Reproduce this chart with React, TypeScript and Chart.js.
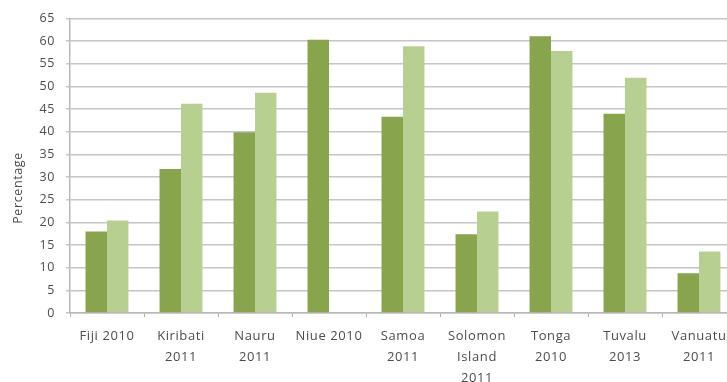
import React, { useEffect, useRef } from "react";
import { Chart, registerables } from "chart.js";

Chart.register(...registerables);

const categories: string[][] = [
  ["Fiji 2010"],
  ["Kiribati", "2011"],
  ["Nauru", "2011"],
  ["Niue 2010"],
  ["Samoa", "2011"],
  ["Solomon", "Island", "2011"],
  ["Tonga", "2010"],
  ["Tuvalu", "2013"],
  ["Vanuatu", "2011"],
];

const seriesA: (number | null)[] = [18.0, 31.8, 39.9, 60.3, 43.3, 17.4, 61.1, 44.0, 8.8];
const seriesB: (number | null)[] = [20.4, 46.2, 48.6, null, 58.9, 22.4, 57.8, 51.9, 13.6];

const yAxisTitle = "Percentage";
const colorA = "#88a44c";
const colorB = "#b8cf92";
const FONT = "'Open Sans', sans-serif";
const TEXT = "#4d4d4d";

const spacingPlugin = {
  id: "spacingPlugin",
  beforeDraw(chart: any) {
    chart.ctx.letterSpacing = "0.6px";
  },
};

const yTitlePlugin = {
  id: "yTitlePlugin",
  afterDraw(chart: any) {
    const ctx = chart.ctx;
    ctx.save();
    ctx.translate(18, 188);
    ctx.rotate(-Math.PI / 2);
    ctx.font = `12.5px ${FONT}`;
    ctx.fillStyle = TEXT;
    ctx.textAlign = "center";
    ctx.textBaseline = "middle";
    ctx.fillText(yAxisTitle, 0, 0);
    ctx.restore();
  },
};

export default function App() {
  const canvasRef = useRef<HTMLCanvasElement | null>(null);

  useEffect(() => {
    if (!canvasRef.current) return;
    const chart = new Chart(canvasRef.current, {
      type: "bar",
      data: {
        labels: categories,
        datasets: [
          {
            label: "A",
            data: seriesA,
            backgroundColor: colorA,
            categoryPercentage: 0.58,
            barPercentage: 1,
          },
          {
            label: "B",
            data: seriesB,
            backgroundColor: colorB,
            categoryPercentage: 0.58,
            barPercentage: 1,
          },
        ],
      },
      options: {
        animation: false,
        responsive: true,
        maintainAspectRatio: false,
        layout: { padding: { top: 16, right: 4, left: 0, bottom: 0 } },
        plugins: {
          legend: { display: false },
          tooltip: { enabled: false },
        },
        scales: {
          x: {
            afterFit: (scale: any) => {
              scale.height = 69;
            },
            grid: {
              display: true,
              drawOnChartArea: false,
              drawTicks: true,
              tickLength: 4,
              color: "#b0b0b0",
              lineWidth: 1,
            },
            border: { display: true, color: "#b8b8b8", width: 1.5 },
            ticks: {
              autoSkip: false,
              maxRotation: 0,
              minRotation: 0,
              padding: 9,
              color: TEXT,
              font: { family: FONT, size: 13, lineHeight: 21 / 13 },
            },
          },
          y: {
            min: 0,
            max: 65,
            afterFit: (scale: any) => {
              scale.width = 70;
            },
            ticks: {
              stepSize: 5,
              padding: 11,
              color: TEXT,
              font: { family: FONT, size: 12.5 },
            },
            grid: {
              color: "#c6c6c6",
              lineWidth: 1.5,
              tickLength: 4,
            },
            border: { display: true, color: "#b8b8b8", width: 1.5 },
          },
        },
      },
      plugins: [spacingPlugin, yTitlePlugin],
    });
    return () => chart.destroy();
  }, []);

  return (
    <div
      style={{
        position: "absolute",
        left: 0,
        top: 0,
        width: 727,
        height: 382,
        overflow: "hidden",
        background: "#fff",
      }}
    >
      <div style={{ position: "relative", width: 740, height: 382 }}>
        <canvas ref={canvasRef} />
      </div>
    </div>
  );
}
